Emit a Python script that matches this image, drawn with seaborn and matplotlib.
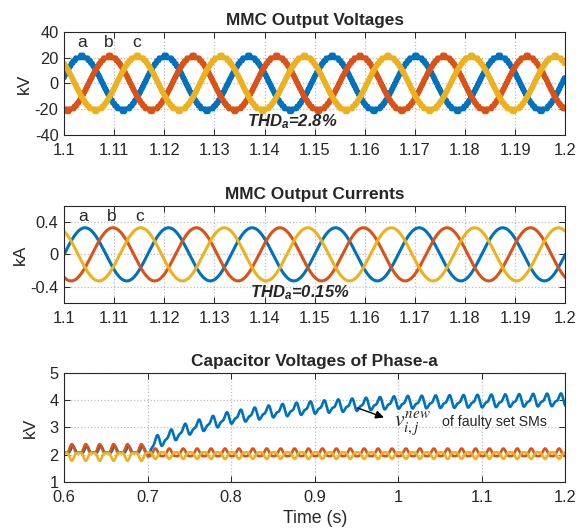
import numpy as np
import pandas as pd
import matplotlib
matplotlib.use("Agg")
import matplotlib.pyplot as plt
import seaborn as sns

# phase colours (MATLAB default order) and phase shifts
phase_names = ["a", "b", "c"]
phase_colors = ["#0072BD", "#D95319", "#EDB120"]
phase_shift_deg = [0, -120, 120]
grid_freq = 60  # Hz, 6 cycles per 0.1 s in the picture

# MMC output voltages (kV)
volt_peak = 21.0
volt_angle_a = 0.25      # rad at t = 1.1 s
volt_level_step = 2.2    # kV between converter levels
volt_thd = "2.8%"
volt_ticks = [-40, -20, 0, 20, 40]
volt_labels = ["-40", "-20", "0", "20", "40"]

# MMC output currents (kA)
curr_peak = 0.33
curr_angle_a = 0.0
curr_thd = "0.15%"
curr_ticks = [-0.4, 0, 0.4]
curr_labels = ["-0.4", "0", "0.4"]

# time window of the two upper plots
win_ticks = [1.1, 1.11, 1.12, 1.13, 1.14, 1.15, 1.16, 1.17, 1.18, 1.19, 1.2]
win_labels = ["1.1", "1.11", "1.12", "1.13", "1.14", "1.15", "1.16", "1.17", "1.18", "1.19", "1.2"]

# capacitor voltages of phase a (kV)
fault_time = 0.7
faulty_env_t = [0.6, 0.7, 0.71, 0.72, 0.75, 0.8, 0.85, 0.9, 0.95, 1.0, 1.1, 1.2]
faulty_env_v = [2.15, 2.15, 2.45, 2.58, 2.95, 3.35, 3.58, 3.72, 3.82, 3.9, 3.95, 4.0]
cap_sets = ["faulty", "healthy 1", "healthy 2"]
cap_mean_pre = [2.15, 2.18, 1.97]
cap_mean_post = [np.nan, 2.06, 2.0]
cap_r1_pre = [0.12, 0.15, -0.14]
cap_r2_pre = [0.05, 0.06, -0.05]
cap_r1_post = [0.19, 0.14, -0.12]
cap_r2_post = [0.08, 0.03, -0.03]
cap_h2_phase_post = [-1.2, 0.0, 0.0]   # rad, skews the faulty-set ripple into a sawtooth
cap_peak_t = [0.6105, 0.6092, 0.6092]
cap_ticks = [1, 2, 3, 4, 5]
cap_xticks = [0.6, 0.7, 0.8, 0.9, 1.0, 1.1, 1.2]
cap_xlabels = ["0.6", "0.7", "0.8", "0.9", "1", "1.1", "1.2"]

sns.set_theme(style="ticks")
plt.rcParams["font.family"] = ["Liberation Sans", "DejaVu Sans"]
plt.rcParams["mathtext.fontset"] = "custom"
plt.rcParams["mathtext.rm"] = "Liberation Sans"
plt.rcParams["mathtext.it"] = "Liberation Sans:italic"
plt.rcParams["mathtext.bf"] = "Liberation Sans:bold"
plt.rcParams["mathtext.bfit"] = "Liberation Sans:italic:bold"

w = 2 * np.pi * grid_freq

# build waveforms
t_win = np.arange(1.1, 1.2 + 1e-6, 2e-5)
rows_v, rows_i = [], []
for name, sh in zip(phase_names, phase_shift_deg):
    ang = np.deg2rad(sh)
    v = volt_peak * np.sin(w * (t_win - 1.1) + volt_angle_a + ang)
    v = np.round(v / volt_level_step) * volt_level_step
    i = curr_peak * np.sin(w * (t_win - 1.1) + curr_angle_a + ang)
    rows_v.append(pd.DataFrame({"t": t_win, "val": v, "phase": name}))
    rows_i.append(pd.DataFrame({"t": t_win, "val": i, "phase": name}))
df_v = pd.concat(rows_v)
df_i = pd.concat(rows_i)

t_cap = np.arange(0.6, 1.2 + 1e-6, 1e-4)
pre = t_cap < fault_time
rows_c = []
for k, name in enumerate(cap_sets):
    x = w * (t_cap - cap_peak_t[k])
    if k == 0:
        mean = np.interp(t_cap, faulty_env_t, faulty_env_v)
    else:
        mean = np.where(pre, cap_mean_pre[k], cap_mean_post[k])
    r1 = np.where(pre, cap_r1_pre[k], cap_r1_post[k])
    r2 = np.where(pre, cap_r2_pre[k], cap_r2_post[k])
    ph2 = np.where(pre, 0.0, cap_h2_phase_post[k])
    vc = mean + r1 * np.cos(x) + r2 * np.cos(2 * x + ph2)
    rows_c.append(pd.DataFrame({"t": t_cap, "val": vc, "set": name}))
df_c = pd.concat(rows_c)

fig = plt.figure(figsize=(5.78, 5.31), dpi=100)
ax1 = fig.add_axes([0.111, 0.746, 0.867, 0.194])
ax2 = fig.add_axes([0.111, 0.430, 0.867, 0.182])
ax3 = fig.add_axes([0.111, 0.092, 0.867, 0.206])

TITLE = 12.4
TICK = 11.8
LABEL = 12.5


def style_axes(ax):
    ax.grid(True, color="#bdbdbd", linestyle=":", linewidth=0.9)
    ax.tick_params(direction="in", top=True, right=True, length=4, width=0.7,
                   labelsize=TICK, colors="#262626", pad=4)
    ax.tick_params(axis="x", pad=6)
    for s in ax.spines.values():
        s.set_linewidth(0.8)
        s.set_color("#262626")
        s.set_visible(True)


sns.lineplot(data=df_v, x="t", y="val", hue="phase", palette=phase_colors,
             linewidth=3.6, estimator=None, legend=False, ax=ax1)
ax1.set_xlim(1.1, 1.2)
ax1.set_ylim(-40, 40)
ax1.set_xticks(win_ticks, win_labels)
ax1.set_yticks(volt_ticks, volt_labels)
ax1.set_xlabel("")
ax1.set_ylabel("kV", fontsize=LABEL, labelpad=2)
ax1.set_title("MMC Output Voltages", fontsize=TITLE, fontweight="bold", pad=5)
for name, xp in zip(phase_names, [1.1035, 1.1088, 1.1145]):
    ax1.text(xp, 31.5, name, fontsize=12.5, ha="center", va="center")
ax1.text(1.1364, -30, r"$\mathbfit{THD_a}$=" + volt_thd, fontsize=12,
         fontweight="bold", style="italic", ha="left", va="center")
style_axes(ax1)

sns.lineplot(data=df_i, x="t", y="val", hue="phase", palette=phase_colors,
             linewidth=2.2, estimator=None, legend=False, ax=ax2)
ax2.set_xlim(1.1, 1.2)
ax2.set_ylim(-0.6, 0.6)
ax2.set_xticks(win_ticks, win_labels)
ax2.set_yticks(curr_ticks, curr_labels)
ax2.set_xlabel("")
ax2.set_ylabel("kA", fontsize=LABEL, labelpad=2)
ax2.set_title("MMC Output Currents", fontsize=TITLE, fontweight="bold", pad=5)
for name, xp in zip(phase_names, [1.1038, 1.1095, 1.115]):
    ax2.text(xp, 0.47, name, fontsize=12.5, ha="center", va="center")
ax2.text(1.137, -0.48, r"$\mathbfit{THD_a}$=" + curr_thd, fontsize=12,
         fontweight="bold", style="italic", ha="left", va="center")
style_axes(ax2)

sns.lineplot(data=df_c, x="t", y="val", hue="set", palette=phase_colors,
             linewidth=1.9, estimator=None, legend=False, ax=ax3)
ax3.set_xlim(0.6, 1.2)
ax3.set_ylim(1, 5)
ax3.set_xticks(cap_xticks, cap_xlabels)
ax3.set_yticks(cap_ticks)
ax3.set_xlabel("Time (s)", fontsize=12.8, labelpad=3)
ax3.set_ylabel("kV", fontsize=LABEL, labelpad=8)
ax3.set_title("Capacitor Voltages of Phase-a", fontsize=TITLE, fontweight="bold", pad=5)
ax3.annotate("", xy=(0.986, 3.33), xytext=(0.948, 3.75),
             arrowprops=dict(arrowstyle="-|>", color="black", lw=1.0, mutation_scale=12))
ax3.text(0.995, 3.04, r"$v_{i,j}^{new}$", fontsize=15.5, math_fontfamily="stix",
         ha="left", va="baseline")
ax3.text(1.052, 3.04, "of faulty set SMs", fontsize=10.2, ha="left", va="baseline")
style_axes(ax3)

fig.savefig("out.png", dpi=100)
